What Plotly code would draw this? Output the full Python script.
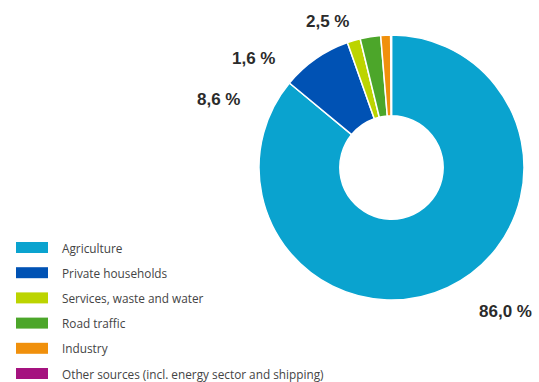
import plotly.graph_objects as go

W, H = 539, 382

categories = ["Agriculture", "Private households", "Services, waste and water",
              "Road traffic", "Industry", "Other sources (incl. energy sector and shipping)"]
values = [86.0, 8.6, 1.6, 2.5, 1.2, 0.1]
colors = ["#0AA3CF", "#0052B4", "#BCD400", "#4CA62A", "#F0900C", "#A5127F"]
value_labels = ["86,0 %", "8,6 %", "1,6 %", "2,5 %"]
label_pos_px = [(505, 311), (218, 100), (253, 58), (327, 21)]

def px(x, y):
    return x / W, 1 - y / H

fig = go.Figure()
fig.add_trace(go.Pie(
    labels=categories, values=values, sort=False, direction="clockwise", rotation=0,
    hole=0.39, textinfo="none", hoverinfo="label+value",
    marker=dict(colors=colors, line=dict(color="white", width=1.5)),
    domain=dict(x=[258 / W, 525 / W], y=[1 - 300 / H, 1 - 35 / H]),
    showlegend=False,
))

annotations = []
for txt, (x, y) in zip(value_labels, label_pos_px):
    ax, ay = px(x, y)
    annotations.append(dict(x=ax, y=ay, xref="paper", yref="paper", text="<b>" + txt + "</b>",
                            showarrow=False,
                            font=dict(family="Liberation Sans, Arial", size=17, color="#2b2b2b"),
                            xanchor="center", yanchor="middle"))

shapes = []
row0, step = 247.5, 25.2
for i, (cat, col) in enumerate(zip(categories, colors)):
    yc = row0 + i * step
    x0, y0 = px(16, yc - 5.5)
    x1, y1 = px(48, yc + 5.5)
    shapes.append(dict(type="rect", xref="paper", yref="paper", x0=x0, x1=x1, y0=y1, y1=y0,
                       fillcolor=col, line=dict(width=0)))
    tx, ty = px(60, yc)
    annotations.append(dict(x=tx, y=ty, xref="paper", yref="paper", text=cat, showarrow=False,
                            xanchor="left", yanchor="middle",
                            font=dict(family="Open Sans, Arial", size=11.8, color="#444444")))

fig.update_layout(
    width=W, height=H, margin=dict(l=0, r=0, t=0, b=0),
    paper_bgcolor="white", plot_bgcolor="white",
    annotations=annotations, shapes=shapes,
)
fig.write_html("out.html")
